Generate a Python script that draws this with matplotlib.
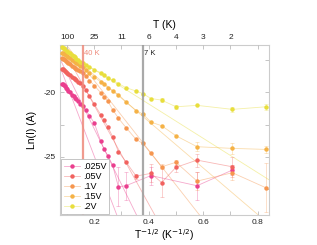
import numpy as np
import matplotlib
matplotlib.use("Agg")
import matplotlib.pyplot as plt
from matplotlib.colors import to_rgba

plt.rcParams["font.family"] = ["Liberation Sans", "DejaVu Sans"]

# measurement temperatures (K); x axis is T^-1/2
temps_hi = [150, 140, 130, 120, 110, 100, 90, 80, 70, 65, 60, 55, 50, 45, 40]
temps_lo = [35, 30, 25, 20, 18, 16, 14, 12, 10, 8, 7, 6, 5, 4, 3, 2, 1.45]
temps_lo_05 = [35, 30, 25, 20, 18, 16, 14, 12, 10, 8, 6, 5, 4, 3, 2]
temps_lo_025 = [35, 30, 25, 20, 18, 16, 14, 12, 10, 6, 3, 2]

# Ln(I) values per bias voltage
lnI_2 = [-16.48, -16.53, -16.58, -16.63, -16.69, -16.77, -16.86, -16.97, -17.10, -17.18,
         -17.27, -17.38, -17.49, -17.61, -17.71,
         -17.88, -18.06, -18.25, -18.46, -18.62, -18.85, -19.05, -19.32, -19.63, -19.90,
         -20.09, -20.48, -20.60, -21.12, -21.01, -21.32, -21.12]
lnI_15 = [-16.92, -16.96, -17.00, -17.05, -17.11, -17.18, -17.27, -17.36, -17.48, -17.55,
          -17.62, -17.71, -17.81, -17.92, -18.06,
          -18.27, -18.46, -18.81, -19.18, -19.39, -19.63, -19.90, -20.17, -20.73, -21.41,
          -21.68, -22.31, -22.59, -23.37, -24.22, -24.35, -24.43]
lnI_1 = [-17.35, -17.39, -17.44, -17.49, -17.55, -17.62, -17.71, -17.81, -17.93, -18.00,
         -18.08, -18.16, -18.25, -18.35, -18.46,
         -18.73, -19.08, -19.47, -20.02, -20.33, -20.68, -21.34, -22.00, -22.73, -23.65,
         -23.96, -24.74, -25.78, -25.43, -26.89, -26.24, -27.41]
lnI_05 = [-18.17, -18.21, -18.27, -18.33, -18.40, -18.49, -18.58, -18.69, -18.81, -18.88,
          -18.97, -19.06, -19.17, -19.28, -19.47,
          -19.82, -20.29, -20.91, -21.72, -22.15, -22.69, -23.43, -24.60, -25.39, -26.50,
          -26.29, -27.00, -25.82, -25.26, -25.78]
lnI_025 = [-19.32, -19.39, -19.46, -19.54, -19.64, -19.74, -19.87, -20.01, -20.18, -20.29,
           -20.41, -20.55, -20.71, -20.88, -21.06,
           -21.37, -21.80, -22.38, -23.78, -24.40, -24.91, -25.64, -27.33, -27.25, -26.46,
           -27.25, -26.03]

# error bars (T -> +/- Ln(I))
err_2 = {5: 0.15, 4: 0.15, 2: 0.2, 1.45: 0.25}
err_15 = {3: 0.35, 2: 0.4, 1.45: 0.3}
err_1 = {5: 0.2, 4: 0.2, 3: 0.7, 2: 0.6, 1.45: 1.9}
err_05 = {8: 0.2, 6: 0.7, 5: 1.1, 4: 0.4, 3: 0.5, 2: 0.8}
err_025 = {12: 1.5, 10: 1.1, 6: 0.7, 3: 1.1, 2: 0.4}

# straight-line fits (slope, intercept)
fit_2 = [(-13.33, -15.57)]
fit_15 = [(-18.05, -15.04)]
fit_1 = [(-27.0, -13.69)]
fit_05 = [(-38.3, -13.35)]
fit_025 = [(-43.1, -14.21), (-55.2, -13.91)]

labels = [".025V", ".05V", ".1V", ".15V", ".2V"]
colors = ["#ea3f8e", "#f1625f", "#f6964f", "#f5b246", "#e8de3c"]

series = [
    (temps_hi + temps_lo_025, lnI_025, err_025, fit_025),
    (temps_hi + temps_lo_05, lnI_05, err_05, fit_05),
    (temps_hi + temps_lo, lnI_1, err_1, fit_1),
    (temps_hi + temps_lo, lnI_15, err_15, fit_15),
    (temps_hi + temps_lo, lnI_2, err_2, fit_2),
]

top_ticks = [0.1, 0.2, 0.3, 0.4, 0.5, 0.6, 0.7, 0.8]
top_labels = ["100", "25", "11", "6", "4", "3", "2", ""]

fig = plt.figure(figsize=(3.17, 2.45), dpi=100)
ax = fig.add_axes([0.189, 0.122, 0.660, 0.694])
xlim = (0.074, 0.842)
ylim = (-29.53, -16.33)

fx = np.array([0.06, 0.86])
for (temps, lnI, errs, fits), lab, c in zip(series, labels, colors):
    x = np.array(temps, dtype=float) ** -0.5
    for m, b in fits:
        ax.plot(fx, b + m * fx, color=to_rgba(c, 0.45), lw=0.6, zorder=1)
    ex = [t ** -0.5 for t in errs]
    ey = [lnI[temps.index(t)] for t in errs]
    ax.errorbar(ex, ey, yerr=list(errs.values()), fmt="none", ecolor=to_rgba(c, 0.35),
                elinewidth=0.6, capsize=1.5, capthick=0.6, zorder=2)
    ax.plot(x, lnI, "-o", color=to_rgba(c, 0.45), lw=0.6, ms=3.2,
            mfc=c, mec=c, mew=0, label=lab, zorder=3)

# 40 K and 7 K markers
ax.axvline(40 ** -0.5, color="#ee8a7c", lw=1.6, alpha=0.85, zorder=4)
ax.axvline(7 ** -0.5, color="#9a9a9a", lw=1.6, alpha=0.85, zorder=4)
ax.text(40 ** -0.5 + 0.006, -16.97, "40 K", color="#ee8a7c", fontsize=5.5, va="center")
ax.text(7 ** -0.5 + 0.006, -16.97, "7 K", color="#222222", fontsize=5.5, va="center")

ax.set_xlim(xlim)
ax.set_ylim(ylim)
ax.set_xticks([0.2, 0.4, 0.6, 0.8])
ax.set_xticklabels(["0.2", "0.4", "0.6", "0.8"])
ax.set_xticks([0.1, 0.3, 0.5, 0.7], minor=True)
ax.set_yticks([-20, -25])
ax.set_yticklabels(["-20", "-25"])
ax.set_yticks([-17.5, -22.5, -27.5], minor=True)
ax.tick_params(which="both", direction="in", length=3, width=0.6, color="#bbbbbb",
               labelsize=6, labelcolor="#222222", right=True, pad=3)
for s in ax.spines.values():
    s.set_color("#cccccc")
    s.set_linewidth(0.8)

ax.set_xlabel("T$^{-1/2}$ (K$^{-1/2}$)", fontsize=7.5, labelpad=1)
ax.set_ylabel("Ln(I) (A)", fontsize=7.5, labelpad=5)

ax2 = ax.twiny()
ax2.set_xlim(xlim)
ax2.set_xticks(top_ticks)
ax2.set_xticklabels(top_labels)
ax2.tick_params(direction="in", length=3, width=0.6, color="#bbbbbb",
                labelsize=6, labelcolor="#222222", pad=3)
ax2.set_xlabel("T (K)", fontsize=7.5, labelpad=4)
for s in ax2.spines.values():
    s.set_visible(False)

leg = ax.legend(loc="lower left", fontsize=6.5, handlelength=1.8, handletextpad=0.3,
                labelspacing=0.12, borderpad=0.3, borderaxespad=0.15, fancybox=False,
                framealpha=1, edgecolor="#bbbbbb")
leg.get_frame().set_linewidth(0.6)
leg.set_zorder(6)

fig.savefig("out.png", dpi=100)
